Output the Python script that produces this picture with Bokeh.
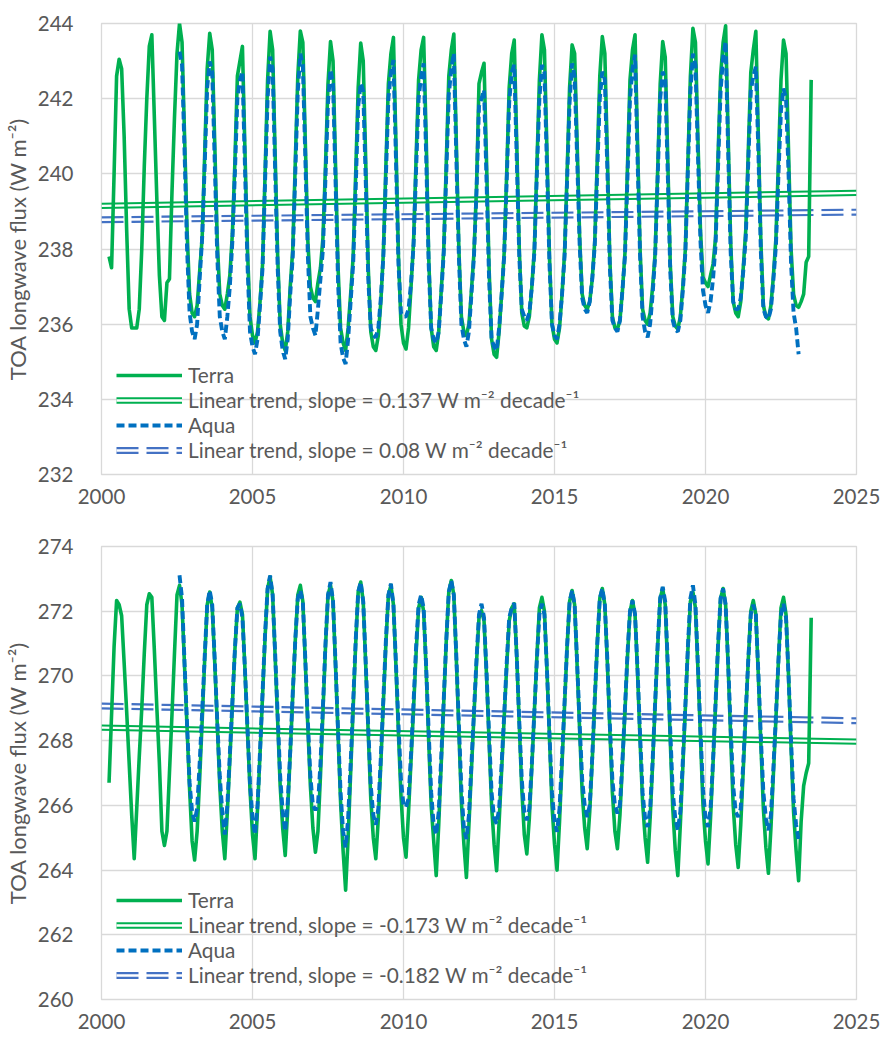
from bokeh.plotting import figure
from bokeh.models import Range1d, FixedTicker, Legend, LegendItem
from bokeh.layouts import column
from bokeh.embed import file_html
from bokeh.resources import INLINE

# ---------------- data ----------------
x_ticks = [2000, 2005, 2010, 2015, 2020, 2025]
top_y_ticks = [232, 234, 236, 238, 240, 242, 244]
bot_y_ticks = [260, 262, 264, 266, 268, 270, 272, 274]

terra_start = (2000, 3)   # March 2000
aqua_start = (2002, 7)    # July 2002

# Panel 1: monthly TOA longwave flux (W m-2)
terra_top = [
    237.8, 237.5, 240.0, 242.6, 243.05, 242.8, 241.0, 238.5, 236.4, 235.9,
    235.9, 235.9, 236.4, 238.0, 240.2, 242.0, 243.4, 243.7, 241.5, 239.3, 237.3, 236.2,
    236.1, 237.1, 237.2, 239.5, 241.5, 243.2, 244.0, 243.5, 241.0, 238.5, 236.8, 236.3,
    236.2, 236.5, 237.4, 238.3, 240.5, 242.8, 243.74, 243.3, 240.8, 238.2, 236.8, 236.5,
    236.4, 236.8, 237.3, 238.4, 240.3, 242.6, 243.0, 243.39, 240.6, 238.0, 236.2, 235.7,
    235.5, 235.8, 236.6, 237.6, 240.0, 242.5, 243.79, 243.3, 240.5, 237.8, 236.0, 235.5,
    235.3, 235.8, 237.0, 238.0, 240.3, 242.6, 243.8, 243.5, 240.8, 238.2, 237.0, 236.7,
    236.6, 237.1, 237.5, 238.3, 240.2, 242.4, 243.52, 243.0, 240.2, 237.5, 235.9, 235.5,
    235.3, 235.9, 236.8, 237.8, 240.0, 242.3, 243.48, 243.0, 240.3, 237.5, 235.8, 235.4,
    235.3, 235.7, 236.6, 237.9, 240.2, 242.4, 243.2, 243.63, 240.8, 237.8, 236.0, 235.5,
    235.34, 235.9, 237.0, 238.2, 240.4, 242.5, 243.3, 243.63, 241.0, 237.8, 235.9, 235.4,
    235.3, 235.8, 236.9, 238.0, 240.3, 242.6, 243.3, 243.72, 240.8, 238.0, 236.2, 235.8,
    235.7, 236.0, 236.9, 237.9, 239.6, 242.4, 242.7, 242.94, 240.3, 237.5, 235.6, 235.2,
    235.12, 235.8, 236.8, 237.9, 240.0, 242.3, 243.2, 243.56, 240.8, 238.0, 236.3, 235.95,
    235.9, 236.2, 237.0, 238.0, 240.2, 242.5, 243.7, 243.3, 240.6, 237.8, 236.0, 235.6,
    235.5, 235.9, 236.8, 237.9, 240.0, 242.3, 243.43, 243.2, 240.8, 238.3, 236.8, 236.5,
    236.4, 236.6, 237.2, 238.2, 240.4, 242.6, 243.65, 243.2, 240.5, 237.7, 236.2, 235.9,
    235.87, 236.1, 236.9, 237.9, 240.2, 242.5, 243.3, 243.7, 240.8, 238.0, 236.4, 236.1,
    236.0, 236.3, 237.0, 237.9, 240.1, 242.4, 243.52, 243.1, 240.4, 237.6, 236.2, 235.95,
    235.87, 236.2, 237.0, 238.0, 240.3, 242.6, 243.87, 243.5, 240.9, 238.5, 237.25, 237.1,
    237.0, 237.3, 237.6, 238.3, 240.5, 242.6, 243.5, 243.94, 241.0, 238.2, 236.6, 236.3,
    236.2, 236.6, 237.5, 238.5, 240.6, 242.7, 243.3, 243.79, 241.0, 238.2, 236.5, 236.2,
    236.14, 236.5, 237.3, 238.3, 240.4, 242.5, 243.56, 243.2, 240.6, 238.0, 236.8, 236.5,
    236.45, 236.6, 236.8, 237.65, 237.8, 242.5,
]

aqua_top = [
    243.25, 242.9, 240.6, 238.0, 236.3, 235.8,
    235.6, 236.0, 237.2, 238.3, 240.2, 242.3, 242.99, 242.7, 240.3, 237.8, 236.2, 235.8,
    235.6, 236.2, 237.0, 238.2, 240.0, 242.0, 242.5, 242.72, 240.2, 237.6, 235.8, 235.4,
    235.2, 235.6, 236.5, 237.5, 239.8, 242.0, 243.12, 242.8, 240.1, 237.5, 235.8, 235.3,
    235.07, 235.6, 236.8, 237.8, 240.0, 242.2, 243.2, 242.9, 240.4, 237.8, 236.2, 235.9,
    235.7, 236.4, 237.2, 238.0, 239.9, 241.9, 242.77, 242.4, 239.8, 237.1, 235.5, 235.1,
    234.94, 235.6, 236.6, 237.6, 239.6, 241.8, 242.41, 242.2, 239.8, 237.2, 235.9, 235.7,
    235.65, 235.9, 236.7, 237.8, 239.9, 242.0, 242.7, 243.03, 240.4, 237.6, 236.3, 236.2,
    236.2, 236.4, 237.1, 238.1, 240.1, 242.0, 242.6, 242.94, 240.5, 237.6, 235.9, 235.6,
    235.5, 235.8, 236.8, 237.9, 240.0, 242.1, 242.8, 243.21, 240.4, 237.8, 236.0, 235.6,
    235.4, 235.8, 236.8, 237.8, 239.5, 241.8, 242.0, 242.23, 239.8, 237.2, 235.6, 235.4,
    235.3, 235.9, 236.8, 237.8, 239.8, 241.9, 242.7, 242.9, 240.4, 237.8, 236.4, 236.2,
    236.1, 236.3, 237.0, 237.9, 240.0, 242.0, 242.9, 242.7, 240.2, 237.6, 236.0, 235.7,
    235.6, 236.0, 236.8, 237.8, 239.8, 241.9, 242.94, 242.6, 240.4, 238.1, 236.7, 236.4,
    236.3, 236.6, 237.2, 238.1, 240.1, 242.0, 242.72, 242.5, 240.1, 237.5, 236.1, 235.9,
    235.8, 236.1, 236.9, 237.8, 239.9, 242.0, 242.8, 243.17, 240.4, 237.8, 236.2, 235.8,
    235.65, 236.0, 236.8, 237.8, 239.9, 242.0, 242.72, 242.5, 240.0, 237.4, 236.1, 235.85,
    235.8, 236.1, 236.9, 237.9, 240.1, 242.2, 243.2, 242.9, 240.5, 238.2, 236.9, 236.5,
    236.3, 236.6, 237.2, 238.1, 240.2, 242.2, 243.1, 243.52, 240.6, 237.9, 236.6, 236.4,
    236.4, 236.7, 237.4, 238.3, 240.3, 242.2, 242.6, 242.85, 240.6, 237.9, 236.4, 236.2,
    236.14, 236.4, 237.2, 238.1, 240.0, 241.7, 242.27, 242.0, 240.0, 237.6, 236.3, 235.9,
    235.2,
]

# Panel 2: monthly TOA longwave flux (W m-2)
terra_bot = [
    266.7, 268.8, 270.9, 272.33, 272.2, 271.86, 270.4, 268.9, 267.3, 265.7,
    264.35, 265.9, 267.5, 269.0, 270.7, 272.2, 272.54, 272.43, 270.8, 269.0, 267.3, 265.2,
    264.76, 265.2, 267.0, 268.8, 270.7, 272.5, 272.8, 272.2, 270.3, 268.4, 266.5, 264.9,
    264.31, 265.2, 266.8, 268.6, 270.5, 272.2, 272.59, 272.1, 270.4, 268.5, 266.6, 265.2,
    264.35, 265.8, 267.4, 269.1, 270.8, 272.1, 272.28, 271.9, 270.2, 268.3, 266.5, 265.1,
    264.35, 265.9, 267.6, 269.4, 271.2, 272.7, 273.06, 272.5, 270.6, 268.6, 266.6, 265.3,
    264.45, 265.9, 267.6, 269.4, 271.1, 272.5, 272.8, 272.3, 270.4, 268.4, 266.6, 265.3,
    264.55, 265.2, 266.9, 268.9, 270.9, 272.5, 272.8, 272.3, 270.3, 268.2, 266.1, 264.6,
    263.38, 265.0, 267.0, 269.0, 271.0, 272.6, 272.9, 272.3, 270.3, 268.2, 266.2, 265.0,
    264.35, 265.6, 267.3, 269.2, 271.0, 272.5, 272.8, 272.2, 270.3, 268.2, 266.3, 265.0,
    264.4, 265.8, 267.4, 269.0, 270.7, 272.1, 272.43, 272.0, 270.2, 268.0, 266.0, 264.9,
    263.83, 265.4, 267.3, 269.2, 271.1, 272.6, 272.95, 272.5, 270.5, 268.3, 266.1, 264.8,
    263.77, 265.4, 267.1, 268.8, 270.4, 271.8, 272.02, 271.7, 270.0, 268.0, 266.0, 264.8,
    263.98, 265.5, 267.1, 268.7, 270.3, 271.7, 272.1, 272.23, 270.6, 268.5, 266.5, 265.1,
    264.5, 265.6, 267.2, 268.9, 270.6, 272.1, 272.43, 272.0, 270.2, 268.1, 266.0, 264.8,
    264.0, 265.5, 267.3, 269.1, 270.9, 272.3, 272.64, 272.2, 270.3, 268.3, 266.4, 265.3,
    264.66, 265.8, 267.4, 269.2, 271.0, 272.4, 272.7, 272.2, 270.4, 268.3, 266.4, 265.2,
    264.66, 265.7, 267.3, 268.9, 270.6, 272.0, 272.33, 271.9, 270.1, 268.0, 266.1, 265.0,
    264.24, 265.6, 267.3, 269.1, 270.9, 272.4, 272.7, 272.2, 270.2, 268.0, 265.9, 264.6,
    263.83, 265.4, 267.2, 269.0, 270.8, 272.3, 272.59, 272.1, 270.2, 268.1, 266.0, 264.9,
    264.19, 265.6, 267.3, 269.1, 270.9, 272.4, 272.7, 272.2, 270.3, 268.1, 266.0, 264.8,
    264.08, 265.4, 267.1, 268.8, 270.5, 272.0, 272.33, 271.9, 270.0, 267.9, 265.9, 264.7,
    263.9, 265.3, 267.0, 268.7, 270.5, 272.1, 272.43, 271.9, 270.0, 267.8, 265.8, 264.6,
    263.67, 265.5, 266.6, 267.0, 267.3, 271.8,
]

aqua_bot = [
    273.11, 272.4, 270.4, 268.5, 266.7, 265.8,
    265.5, 265.9, 267.3, 268.9, 270.6, 272.2, 272.64, 272.2, 270.5, 268.6, 266.9, 265.8,
    265.1, 266.0, 267.6, 269.2, 270.8, 272.1, 272.23, 271.8, 270.2, 268.4, 266.7, 265.6,
    265.1, 266.0, 267.7, 269.5, 271.3, 272.7, 273.1, 272.5, 270.7, 268.8, 266.9, 265.8,
    265.2, 266.1, 267.7, 269.5, 271.1, 272.4, 272.64, 272.3, 270.5, 268.6, 266.9, 266.0,
    265.85, 266.0, 267.3, 269.1, 271.0, 272.5, 272.9, 272.3, 270.4, 268.3, 266.4, 265.2,
    264.7, 265.6, 267.3, 269.2, 271.1, 272.6, 272.9, 272.3, 270.4, 268.4, 266.6, 265.7,
    265.4, 265.9, 267.5, 269.3, 271.1, 272.5, 272.85, 272.2, 270.4, 268.5, 266.8, 266.0,
    265.95, 266.2, 267.6, 269.2, 270.9, 272.2, 272.5, 272.1, 270.3, 268.3, 266.4, 265.4,
    265.1, 265.8, 267.5, 269.3, 271.1, 272.6, 272.95, 272.5, 270.6, 268.5, 266.5, 265.3,
    264.96, 265.7, 267.3, 268.9, 270.5, 271.9, 272.23, 271.8, 270.1, 268.2, 266.4, 265.6,
    265.43, 265.9, 267.3, 268.8, 270.4, 271.8, 272.1, 272.25, 270.6, 268.6, 266.8, 265.8,
    265.54, 265.9, 267.3, 268.9, 270.5, 271.9, 272.23, 271.9, 270.2, 268.2, 266.4, 265.5,
    265.18, 265.9, 267.5, 269.2, 270.9, 272.3, 272.64, 272.2, 270.4, 268.5, 266.8, 266.0,
    265.64, 266.0, 267.5, 269.3, 271.0, 272.4, 272.7, 272.2, 270.5, 268.5, 266.8, 266.0,
    265.75, 266.0, 267.4, 269.0, 270.7, 272.0, 272.33, 271.9, 270.2, 268.2, 266.4, 265.6,
    265.33, 265.9, 267.4, 269.2, 271.0, 272.4, 272.75, 272.3, 270.4, 268.3, 266.4, 265.6,
    265.23, 265.8, 267.4, 269.1, 270.9, 272.4, 272.8, 272.2, 270.3, 268.3, 266.5, 265.6,
    265.33, 265.9, 267.4, 269.2, 271.0, 272.4, 272.7, 272.2, 270.4, 268.4, 266.6, 265.8,
    265.64, 265.9, 267.3, 268.9, 270.5, 271.9, 272.2, 271.9, 270.1, 268.1, 266.4, 265.6,
    265.23, 265.7, 267.2, 268.8, 270.5, 271.9, 272.23, 271.8, 270.0, 268.0, 266.2, 265.4,
    264.92,
]

# Linear trends: value at 2000 and slope (W m-2 per decade)
top_terra_trend = (239.15, 0.137)
top_aqua_trend = (238.78, 0.08)
bot_terra_trend = (268.40, -0.173)
bot_aqua_trend = (269.07, -0.182)

top_labels = ["Terra", "Linear trend, slope = 0.137 W m\u207b\u00b2 decade\u207b\u00b9",
              "Aqua", "Linear trend, slope = 0.08 W m\u207b\u00b2 decade\u207b\u00b9"]
bot_labels = ["Terra", "Linear trend, slope = -0.173 W m\u207b\u00b2 decade\u207b\u00b9",
              "Aqua", "Linear trend, slope = -0.182 W m\u207b\u00b2 decade\u207b\u00b9"]
y_title = "TOA longwave flux (W m\u207b\u00b2)"

# ---------------- style ----------------
FONT = "Lato"
TXT = "#595959"
GRID = "#D9D9D9"
GREEN = "#00B050"
BLUE = "#0070C0"
TBLUE = "#4472C4"


def month_x(start, n):
    y0, m0 = start
    return [y0 + (m0 + i) / 12.0 for i in range(n)]


def trend_xy(tr):
    y0, slope = tr
    xs = [2000.0, 2025.0]
    return xs, [y0 + slope / 10.0 * (x - 2000.0) for x in xs]


def panel(terra, aqua, t_terra, t_aqua, yr, yticks, labels, frame_h, b_top, b_bot):
    p = figure(width=880, height=b_top + frame_h + b_bot,
               x_range=Range1d(2000, 2025), y_range=Range1d(*yr),
               output_backend="svg", toolbar_location=None,
               min_border_left=100, min_border_right=24,
               min_border_top=b_top, min_border_bottom=b_bot)
    p.outline_line_color = GRID
    p.outline_line_width = 1.3
    p.background_fill_color = "white"
    p.border_fill_color = "white"

    p.xaxis.ticker = FixedTicker(ticks=x_ticks)
    p.yaxis.ticker = FixedTicker(ticks=yticks)
    for ax in (p.xaxis[0], p.yaxis[0]):
        ax.axis_line_color = None
        ax.major_tick_line_color = None
        ax.minor_tick_line_color = None
        ax.major_label_text_font = FONT
        ax.major_label_text_font_size = "20.5px"
        ax.major_label_text_color = TXT
    p.xaxis.major_label_standoff = 8
    p.yaxis.major_label_standoff = 22
    p.yaxis.axis_label = y_title
    p.yaxis.axis_label_text_font = FONT
    p.yaxis.axis_label_text_font_size = "22px"
    p.yaxis.axis_label_text_font_style = "normal"
    p.yaxis.axis_label_text_color = TXT
    p.yaxis.axis_label_standoff = 4
    p.xgrid.grid_line_color = GRID
    p.ygrid.grid_line_color = GRID
    p.xgrid.grid_line_width = 1.3
    p.ygrid.grid_line_width = 1.3

    # linear trends drawn as double lines (thick colour line with a thin white core)
    tx, ty = trend_xy(t_terra)
    g_outer = p.line(tx, ty, line_color=GREEN, line_width=6.3)
    g_inner = p.line(tx, ty, line_color="white", line_width=2.3)
    ax_, ay_ = trend_xy(t_aqua)
    b_outer = p.line(ax_, ay_, line_color=TBLUE, line_width=7, line_dash="22 8")
    b_inner = p.line(ax_, ay_, line_color="white", line_width=2.6)

    r_terra = p.line(month_x(terra_start, len(terra)), terra, line_color=GREEN, line_width=3.6,
                     line_join="round")
    r_aqua = p.line(month_x(aqua_start, len(aqua)), aqua, line_color=BLUE, line_width=3.9,
                    line_dash="8 4")

    legend = Legend(items=[
        LegendItem(label=labels[0], renderers=[r_terra]),
        LegendItem(label=labels[1], renderers=[g_outer, g_inner]),
        LegendItem(label=labels[2], renderers=[r_aqua]),
        LegendItem(label=labels[3], renderers=[b_outer, b_inner]),
    ], location=(15, 12), padding=0, margin=0, spacing=0,
        glyph_width=66, glyph_height=20, label_height=20, label_standoff=6,
        background_fill_alpha=0, border_line_alpha=0,
        label_text_font=FONT, label_text_font_size="20.8px", label_text_color=TXT)
    p.add_layout(legend)
    return p


p1 = panel(terra_top, aqua_top, top_terra_trend, top_aqua_trend, (232, 244), top_y_ticks,
           top_labels, 451, 23, 48)
p2 = panel(terra_bot, aqua_bot, bot_terra_trend, bot_aqua_trend, (260, 274), bot_y_ticks,
           bot_labels, 453, 24, 37)

layout = column(p1, p2, spacing=0)
open("out.html", "w").write(file_html(layout, INLINE))
